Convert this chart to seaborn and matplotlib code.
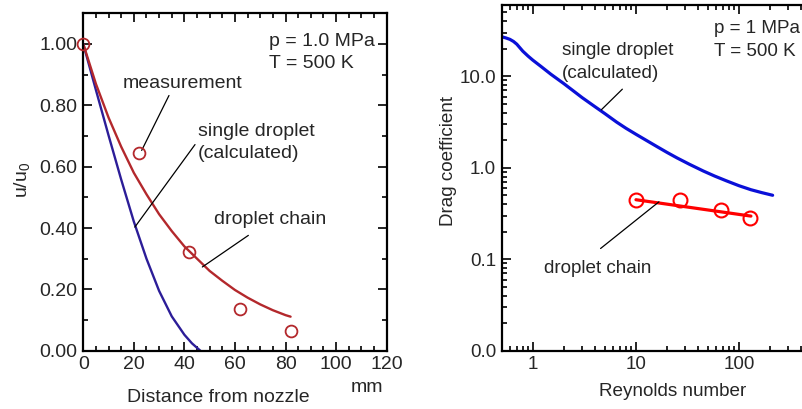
import numpy as np
import pandas as pd
import matplotlib
matplotlib.use("Agg")
import matplotlib.pyplot as plt
import seaborn as sns
from matplotlib.ticker import MultipleLocator, LogLocator, NullFormatter, FormatStrFormatter

# ---- velocity decay along the spray axis (p = 1.0 MPa, T = 500 K) ----
meas_distance = [0, 22, 42, 62, 82]                 # mm
meas_velocity = [1.00, 0.645, 0.322, 0.136, 0.063]   # u/u0

chain_distance = [0, 5, 10, 15, 20, 25, 30, 35, 40, 45, 50, 55, 60, 65, 70, 75, 80, 82]
chain_velocity = [1.00, 0.87, 0.76, 0.665, 0.58, 0.51, 0.445, 0.39, 0.34, 0.30,
                  0.26, 0.228, 0.198, 0.173, 0.151, 0.132, 0.116, 0.111]

single_distance = [0, 5, 10, 15, 20, 25, 30, 35, 40, 43, 46.3]
single_velocity = [1.00, 0.85, 0.702, 0.558, 0.421, 0.300, 0.195, 0.112, 0.052, 0.024, 0.0]

# ---- drag coefficient vs Reynolds number (p = 1 MPa, T = 500 K) ----
single_re = [0.5, 0.55, 0.6, 0.65, 0.7, 0.8, 0.9, 1.0, 1.2, 1.5, 2.0, 2.5, 3.0, 4.0,
             5.0, 6.5, 8.0, 10, 13, 16, 20, 25, 33, 45, 58, 75, 100, 130, 165, 211]
single_cd = [27.0, 26.2, 25.3, 24.0, 22.4, 18.8, 16.6, 15.0, 12.8, 10.5, 8.3, 6.85,
             5.85, 4.65, 3.9, 3.15, 2.7, 2.32, 1.95, 1.70, 1.47, 1.28, 1.09, 0.92,
             0.81, 0.72, 0.635, 0.575, 0.535, 0.50]

chain_re = [10, 27, 66, 128]
chain_cd = [0.44, 0.445, 0.345, 0.28]

fit_re = [10, 130]
fit_cd = [0.447, 0.296]

sns.set_style("ticks")
plt.rcParams["font.family"] = ["Liberation Sans", "DejaVu Sans"]
plt.rcParams["mathtext.fontset"] = "custom"
plt.rcParams["mathtext.rm"] = "Liberation Sans"
plt.rcParams["mathtext.it"] = "Liberation Sans"

fig = plt.figure(figsize=(8.03, 4.09), dpi=100)
axL = fig.add_axes([0.1037, 0.1425, 0.3778, 0.825])
axR = fig.add_axes([0.6248, 0.1425, 0.4242, 0.8452])

dark_red = "#B3282C"
dark_blue = "#2C1D98"
lead = dict(arrowstyle="-", lw=0.9, color="black", shrinkA=0, shrinkB=0)

# ---------------- left panel ----------------
FS = 14
df_chain = pd.DataFrame({"x": chain_distance, "y": chain_velocity})
df_single = pd.DataFrame({"x": single_distance, "y": single_velocity})
df_meas = pd.DataFrame({"x": meas_distance, "y": meas_velocity})

sns.lineplot(data=df_single, x="x", y="y", ax=axL, color=dark_blue, lw=1.7,
             sort=False, estimator=None)
sns.lineplot(data=df_chain, x="x", y="y", ax=axL, color=dark_red, lw=1.7,
             sort=False, estimator=None)
axL.plot(df_meas["x"], df_meas["y"], ls="none", marker="o", ms=8.5, mfc="none",
         mec=dark_red, mew=1.3, clip_on=False, zorder=5)

axL.set_xlim(0, 120)
axL.set_ylim(0, 1.1)
axL.xaxis.set_major_locator(MultipleLocator(20))
axL.xaxis.set_minor_locator(MultipleLocator(5))
axL.yaxis.set_major_locator(MultipleLocator(0.2))
axL.yaxis.set_minor_locator(MultipleLocator(0.1))
axL.yaxis.set_major_formatter(FormatStrFormatter("%.2f"))

axL.set_xlabel("Distance from nozzle", fontsize=FS)
axL.xaxis.set_label_coords(0.444, -0.112)
axL.set_ylabel("u/u$_0$", fontsize=FS)
axL.yaxis.set_label_coords(-0.168, 0.506)
axL.text(0.935, -0.11, "mm", transform=axL.transAxes, ha="center", va="center",
         fontsize=FS)

axL.text(39.1, 0.871, "measurement", ha="center", va="center", fontsize=FS)
axL.annotate("", xy=(23.1, 0.653), xytext=(33.9, 0.832), arrowprops=lead)
axL.text(45.3, 0.679, "single droplet\n(calculated)", ha="left", va="center",
         fontsize=FS, linespacing=1.35)
axL.annotate("", xy=(20.4, 0.403), xytext=(44.2, 0.672), arrowprops=lead)
axL.text(51.8, 0.427, "droplet chain", ha="left", va="center", fontsize=FS)
axL.annotate("", xy=(47.1, 0.273), xytext=(65.3, 0.376), arrowprops=lead)
axL.text(73.6, 0.972, "p = 1.0 MPa\nT = 500 K", ha="left", va="center",
         fontsize=FS, linespacing=1.35)

# ---------------- right panel ----------------
FS_R = 13.6
df_sd = pd.DataFrame({"Re": single_re, "Cd": single_cd})
df_dc = pd.DataFrame({"Re": chain_re, "Cd": chain_cd})
df_fit = pd.DataFrame({"Re": fit_re, "Cd": fit_cd})

axR.set_xscale("log")
axR.set_yscale("log")
sns.lineplot(data=df_sd, x="Re", y="Cd", ax=axR, color="#0A10D8", lw=2.3,
             sort=False, estimator=None)
sns.lineplot(data=df_fit, x="Re", y="Cd", ax=axR, color="#FF0000", lw=2.3,
             sort=False, estimator=None)
axR.plot(df_dc["Re"], df_dc["Cd"], ls="none", marker="o", ms=10, mfc="none",
         mec="#FF0000", mew=1.5, zorder=5)

axR.set_xlim(0.5, 1000)
axR.set_ylim(0.01, 60)
axR.set_xticks([1, 10, 100], ["1", "10", "100"])
axR.xaxis.set_minor_locator(LogLocator(base=10, subs=np.arange(2, 10)))
axR.xaxis.set_minor_formatter(NullFormatter())
axR.set_yticks([0.01, 0.1, 1, 10], ["0.0", "0.1", "1.0", "10.0"])
axR.yaxis.set_minor_locator(LogLocator(base=10, subs=np.arange(2, 10)))
axR.yaxis.set_minor_formatter(NullFormatter())

axR.set_xlabel("Reynolds number", fontsize=FS_R)
axR.xaxis.set_label_coords(0.501, -0.093)
axR.set_ylabel("Drag coefficient", fontsize=FS_R)
axR.yaxis.set_label_coords(-0.131, 0.549)

axR.text(1.93, 14.3, "single droplet\n(calculated)", ha="left", va="center",
         fontsize=FS_R, linespacing=1.45)
axR.annotate("", xy=(4.61, 4.29), xytext=(7.38, 7.22), arrowprops=lead)
axR.text(1.28, 0.080, "droplet chain", ha="left", va="center", fontsize=FS_R)
axR.annotate("", xy=(4.54, 0.131), xytext=(16.7, 0.424), arrowprops=lead)
axR.text(57.2, 25.0, "p = 1 MPa\nT = 500 K", ha="left", va="center",
         fontsize=FS_R, linespacing=1.45)

for ax, fs in ((axL, FS), (axR, FS_R)):
    for side in ("top", "right", "left", "bottom"):
        ax.spines[side].set_visible(True)
        ax.spines[side].set_linewidth(1.6)
        ax.spines[side].set_color("black")
    ax.tick_params(which="both", direction="in", top=True, right=True,
                   width=1.2, color="black", labelsize=fs, pad=4)
    ax.tick_params(which="major", length=6.5)
    ax.tick_params(which="minor", length=3.6)
    ax.grid(False)

fig.savefig("out.png", dpi=100)
